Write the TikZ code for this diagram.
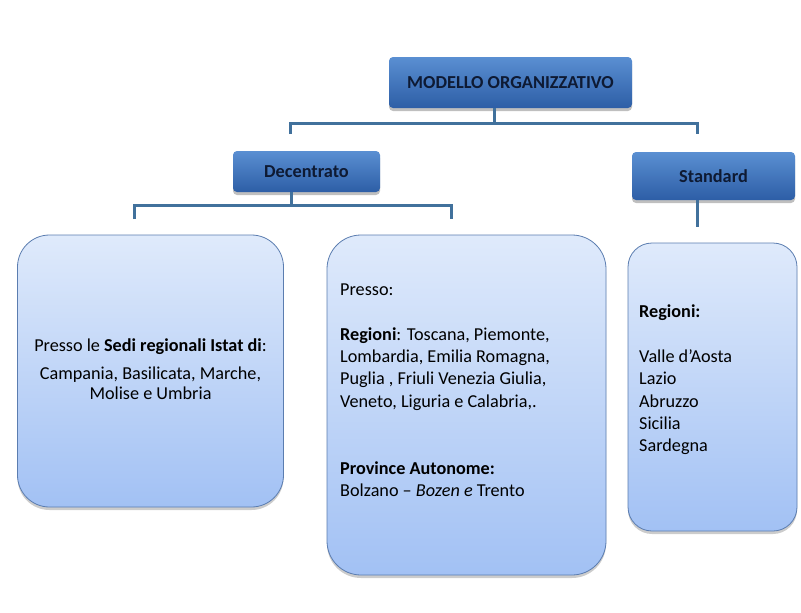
\documentclass[tikz,border=0pt]{standalone}
\usepackage{fontspec}
\setmainfont{Carlito}
\usetikzlibrary{shadows}
\definecolor{linec}{HTML}{41719C}
\definecolor{hdtop}{HTML}{5A8FD2}
\definecolor{hdbot}{HTML}{2D5EA6}
\definecolor{hdtext}{HTML}{0E1A33}
\definecolor{bxtop}{HTML}{DFEAFB}
\definecolor{bxbot}{HTML}{A2C1F4}
\definecolor{bxline}{HTML}{5B7DB0}
\tikzset{
  header/.style={draw=none, rounded corners=4pt, top color=hdtop, bottom color=hdbot,
    text=hdtext, font=\fontsize{18.3}{22}\selectfont\bfseries, inner sep=0pt,
    drop shadow={shadow xshift=0pt, shadow yshift=-3pt, fill=black, opacity=0.25}},
  bigbox/.style={draw=bxline, line width=0.8pt, top color=bxtop, bottom color=bxbot,
    inner sep=0pt, drop shadow={shadow xshift=0pt, shadow yshift=-3pt, fill=black, opacity=0.2}},
  conn/.style={draw=linec, line width=3pt},
  body/.style={inner sep=0pt, text=black, font=\fontsize{18.2}{22.4}\selectfont}
}
\begin{document}
\begin{tikzpicture}[x=1pt,y=-1pt]
\useasboundingbox[fill=white] (0,0) rectangle (801,613);
% header boxes
\node[header, minimum width=243pt, minimum height=51pt] (top) at (510.5,82.5) {MODELLO ORGANIZZATIVO};
\node[header, minimum width=147pt, minimum height=41pt] (dec) at (306.5,171.5) {Decentrato};
\node[header, minimum width=163pt, minimum height=48pt] (std) at (713.5,176) {Standard};
% big boxes
\node[bigbox, rounded corners=32pt, minimum width=266pt, minimum height=272pt] (b1) at (150.5,371) {};
\node[bigbox, rounded corners=34pt, minimum width=279pt, minimum height=340pt] (b2) at (466.5,405) {};
\node[bigbox, rounded corners=24pt, minimum width=169pt, minimum height=288pt] (b3) at (712.5,387) {};
% connector coordinates
\coordinate (j1) at (494,123);
\coordinate (l1) at (290,123);
\coordinate (r1) at (697,123);
\coordinate (l1e) at (290,134);
\coordinate (r1e) at (697,134);
\coordinate (j2) at (291,205);
\coordinate (l2) at (134,205);
\coordinate (r2) at (451,205);
\coordinate (l2e) at (134,219);
\coordinate (r2e) at (451,219);
\coordinate (s3) at (697,227);
% connectors
\draw[conn] (top.south -| j1) -- (j1);
\draw[conn] (l1e) -- (l1) -- (r1) -- (r1e);
\draw[conn] (dec.south -| j2) -- (j2);
\draw[conn] (l2e) -- (l2) -- (r2) -- (r2e);
\draw[conn] (std.south -| s3) -- (s3);
% texts
\node[body, align=center, anchor=north] (t1) at (150.5,338.5)
  {Presso le \textbf{Sedi regionali Istat di}:\\[5.6pt]
   Campania, Basilicata, Marche,\\[-2.4pt]
   Molise e Umbria};
\node[body, align=left, anchor=north west] (t2) at (340,283.5)
  {Presso:\\[22.4pt]
   \textbf{Regioni}: Toscana, Piemonte,\\
   Lombardia, Emilia Romagna,\\
   Puglia , Friuli Venezia Giulia,\\
   Veneto, Liguria e Calabria,.\\[44.8pt]
   \textbf{Province Autonome:}\\
   Bolzano -- \textit{Bozen e} Trento};
\node[body, align=left, anchor=north west] (t3) at (639,304.5)
  {\textbf{Regioni:}\\[22.4pt]
   Valle d’Aosta\\
   Lazio\\
   Abruzzo\\
   Sicilia\\
   Sardegna};
\end{tikzpicture}
\end{document}
